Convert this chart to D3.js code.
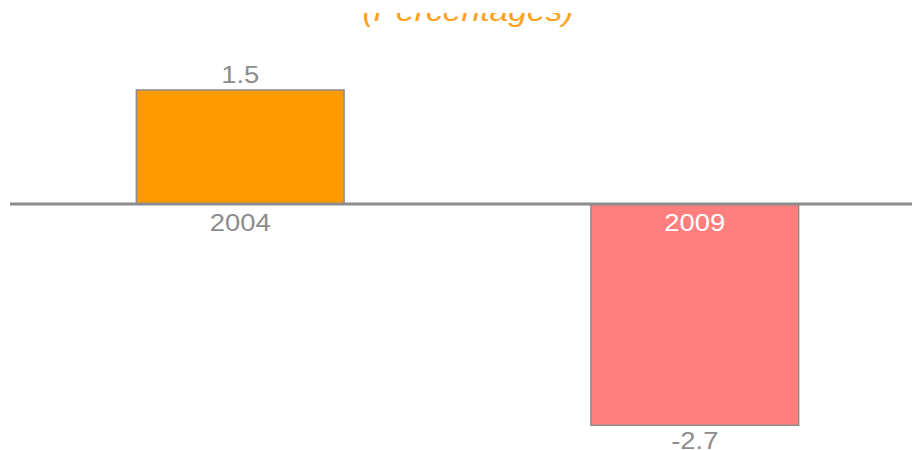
<!DOCTYPE html>
<html>
<head>
<meta charset="utf-8">
<script src="https://cdn.jsdelivr.net/npm/d3@7"></script>
<style>
  body { margin: 0; background: #fff; }
  text { font-family: "Liberation Sans", Arial, Helvetica, sans-serif; }
</style>
</head>
<body>
<div id="chart"></div>
<script>
const svgWidth = 912;
const svgHeight = 450;

// data
const years = ['2004', '2009'];
const values = [1.5, -2.7];
const barColors = ['#FF9900', '#FF7F7F'];
const title = '(Percentages)';

const grey = '#8c8c8c';
const stretch = 1.14; // text in the picture is a bit wide

const svg = d3.select('#chart')
    .append('svg')
    .attr('width', svgWidth)
    .attr('height', svgHeight);

//x-scale, one band per year
const x = d3.scaleBand()
    .domain(years)
    .range([0, 935])
    .paddingInner(0.543)
    .paddingOuter(0.3);

//y-scale, zero sits on the grey baseline
const y = d3.scaleLinear()
    .domain([-2.7, 0, 1.5])
    .range([425.3, 204, 90]);

const data = years.map((year, i) => ({ year, value: values[i], color: barColors[i] }));

//title, top part is cut off in the original
svg.append('clipPath').attr('id', 'title-clip')
    .append('rect')
    .attr('x', 0).attr('y', 13)
    .attr('width', svgWidth).attr('height', 30);

svg.append('g')
    .attr('clip-path', 'url(#title-clip)')
    .append('text')
    .attr('transform', `translate(468, 21) scale(${stretch},1)`)
    .style('text-anchor', 'middle')
    .style('font-size', '29.5px')
    .style('font-style', 'italic')
    .style('fill', '#FFA01E')
    .text(title);

//bars
svg.selectAll('.bar')
    .data(data).enter()
    .append('rect')
    .attr('class', 'bar')
    .attr('x', d => x(d.year))
    .attr('width', x.bandwidth())
    .attr('y', d => Math.min(y(d.value), y(0)))
    .attr('height', d => Math.abs(y(d.value) - y(0)))
    .style('fill', d => d.color)
    .style('stroke', grey)
    .style('stroke-width', 1.5);

//baseline
svg.append('line')
    .attr('x1', 10)
    .attr('x2', svgWidth)
    .attr('y1', y(0))
    .attr('y2', y(0))
    .style('stroke', grey)
    .style('stroke-width', 3);

const labelFont = '24px';

//value labels
svg.selectAll('.value')
    .data(data).enter()
    .append('text')
    .attr('class', 'value')
    .attr('transform', d => {
        const cx = x(d.year) + x.bandwidth() / 2;
        const ty = d.value >= 0 ? y(d.value) - 7.5 : y(d.value) + 24;
        return `translate(${cx}, ${ty}) scale(${stretch},1)`;
    })
    .style('text-anchor', 'middle')
    .style('font-size', labelFont)
    .style('fill', grey)
    .text(d => d3.format('.1f')(d.value).replace('−', '-'));

//year labels, below the axis for positive bars and inside for negative ones
svg.selectAll('.year')
    .data(data).enter()
    .append('text')
    .attr('class', 'year')
    .attr('transform', d => {
        const cx = x(d.year) + x.bandwidth() / 2;
        return `translate(${cx}, ${y(0) + 27}) scale(${stretch},1)`;
    })
    .style('text-anchor', 'middle')
    .style('font-size', labelFont)
    .style('fill', d => d.value >= 0 ? grey : '#fff')
    .text(d => d.year);
</script>
</body>
</html>
